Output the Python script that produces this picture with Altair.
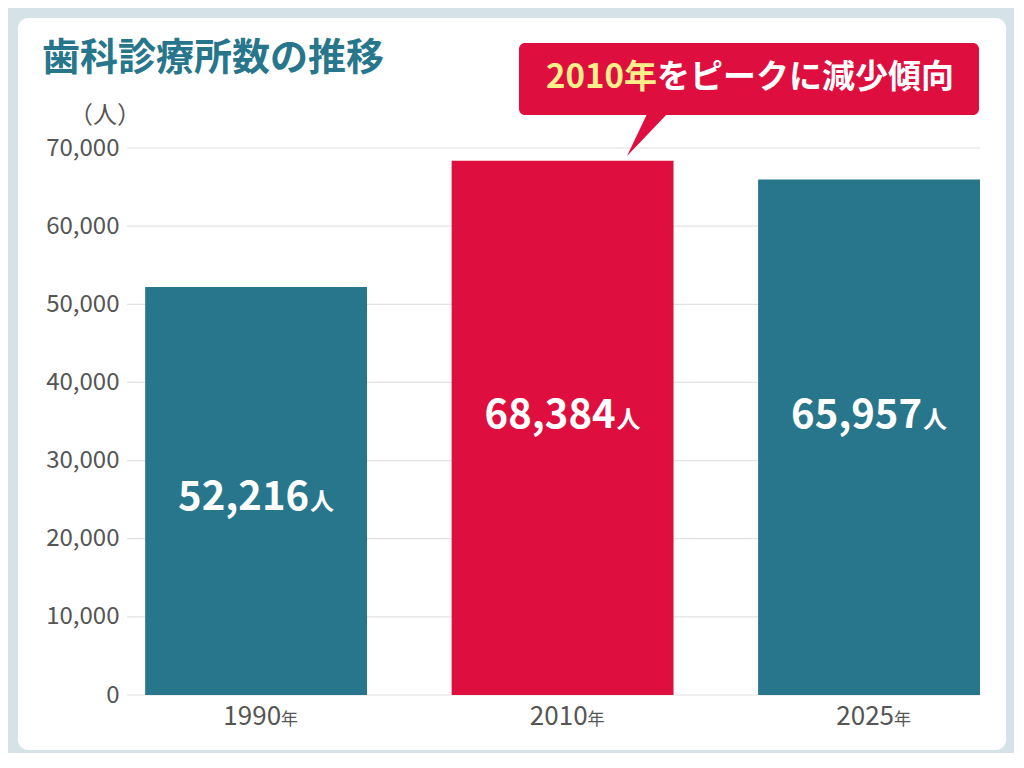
import altair as alt
import pandas as pd

# data
years = ['1990', '2010', '2025']
clinics = [52216, 68384, 65957]
peak_year = '2010'
y_ticks = [0, 10000, 20000, 30000, 40000, 50000, 60000, 70000]

FONT = 'Noto Sans CJK JP'
TEAL = '#27768c'
RED = '#de0f3f'
GREY = '#555555'

df = pd.DataFrame({'year': years, 'value': clinics})
tick_df = pd.DataFrame({'t': y_ticks})
one = pd.DataFrame({'k': [0]})

W, H = 852, 547

base = alt.Chart(df).transform_calculate(
    lab='datum.value > 60000 ? 34200 : 23700',
    num="format(datum.value, ',')",
)

x_enc = alt.X('year:N', sort=years,
              scale=alt.Scale(paddingInner=0.276, paddingOuter=0.028, align=1),
              axis=None)
y_scale = alt.Scale(domain=[0, 70000])
# same axis everywhere so the layers merge into one
y_axis = alt.Axis(title=None, values=y_ticks, format=',d', grid=False,
                  labelFontSize=24, labelColor=GREY, labelFont=FONT,
                  labelPadding=9, ticks=False, domain=False, zindex=1)

# white card behind everything
card = alt.Chart(one).mark_rect(fill='white', cornerRadius=10).encode(
    x=alt.value(-110), x2=alt.value(878), y=alt.value(-130), y2=alt.value(602))

grid = alt.Chart(tick_df).mark_rule(color='#e2e2e2', strokeWidth=1.2).encode(
    y=alt.Y('t:Q', scale=y_scale, axis=y_axis), x=alt.value(-1), x2=alt.value(W))

bars = base.mark_bar().encode(
    x=x_enc,
    y=alt.Y('value:Q', scale=y_scale, axis=y_axis),
    color=alt.condition(alt.datum.year == peak_year, alt.value(RED), alt.value(TEAL)),
)

num_text = base.mark_text(font=FONT, fontSize=40, fontWeight='bold', color='white',
                          align='right', baseline='alphabetic', dx=53).encode(
    x=x_enc, y=alt.Y('lab:Q', axis=y_axis), text='num:N')
unit_text = base.mark_text(font=FONT, fontSize=24, fontWeight='bold', color='white',
                           align='left', baseline='alphabetic', dx=54).encode(
    x=x_enc, y=alt.Y('lab:Q', axis=y_axis), text=alt.value('人'))

# x-axis labels: year number + smaller 年, just under the baseline
year_text = base.mark_text(font=FONT, fontSize=26, color=GREY, align='right',
                           baseline='alphabetic', dx=25, dy=30).encode(
    x=x_enc, y=alt.value(H), text='year:N')
nen_text = base.mark_text(font=FONT, fontSize=17, color=GREY, align='left',
                          baseline='alphabetic', dx=25, dy=30).encode(
    x=x_enc, y=alt.value(H), text=alt.value('年'))

title = alt.Chart(one).mark_text(font=FONT, fontSize=38, fontWeight='bold', color=TEAL,
                                 align='left', baseline='middle').encode(
    x=alt.value(-86), y=alt.value(-89), text=alt.value('歯科診療所数の推移'))

unit_lbl = alt.Chart(one).mark_text(font=FONT, fontSize=24, color=GREY,
                                    align='center', baseline='middle').encode(
    x=alt.value(-23), y=alt.value(-32), text=alt.value('（人）'))

# callout
bubble = alt.Chart(one).mark_rect(fill=RED, cornerRadius=6).encode(
    x=alt.value(391), x2=alt.value(851), y=alt.value(-105), y2=alt.value(-33))
pointer = alt.Chart(one).mark_point(
    shape='M 0 -0.06 L 0.42 -0.06 L -0.42 0.82 Z', size=10000,
    filled=True, fill=RED, strokeWidth=0, opacity=1
).encode(x=alt.value(520), y=alt.value(-33))
call_yellow = alt.Chart(one).mark_text(font=FONT, fontSize=33, fontWeight='bold',
                                       color='#fdf08a', align='right', baseline='middle').encode(
    x=alt.value(529), y=alt.value(-70), text=alt.value('2010年'))
call_white = alt.Chart(one).mark_text(font=FONT, fontSize=33, fontWeight='bold',
                                      color='white', align='left', baseline='middle').encode(
    x=alt.value(529), y=alt.value(-70), text=alt.value('をピークに減少傾向'))

chart = alt.layer(
    card, grid, bars, num_text, unit_text, year_text, nen_text,
    title, unit_lbl, bubble, pointer, call_yellow, call_white
).properties(
    width=W, height=H,
    autosize=alt.AutoSizeParams(type='none'),
    padding={'left': 120, 'top': 140, 'right': 34, 'bottom': 58},
    background='#d5e3e8',
).configure_view(stroke=None)

chart.save("out.html", embed_options={"renderer": "svg", "actions": False})
